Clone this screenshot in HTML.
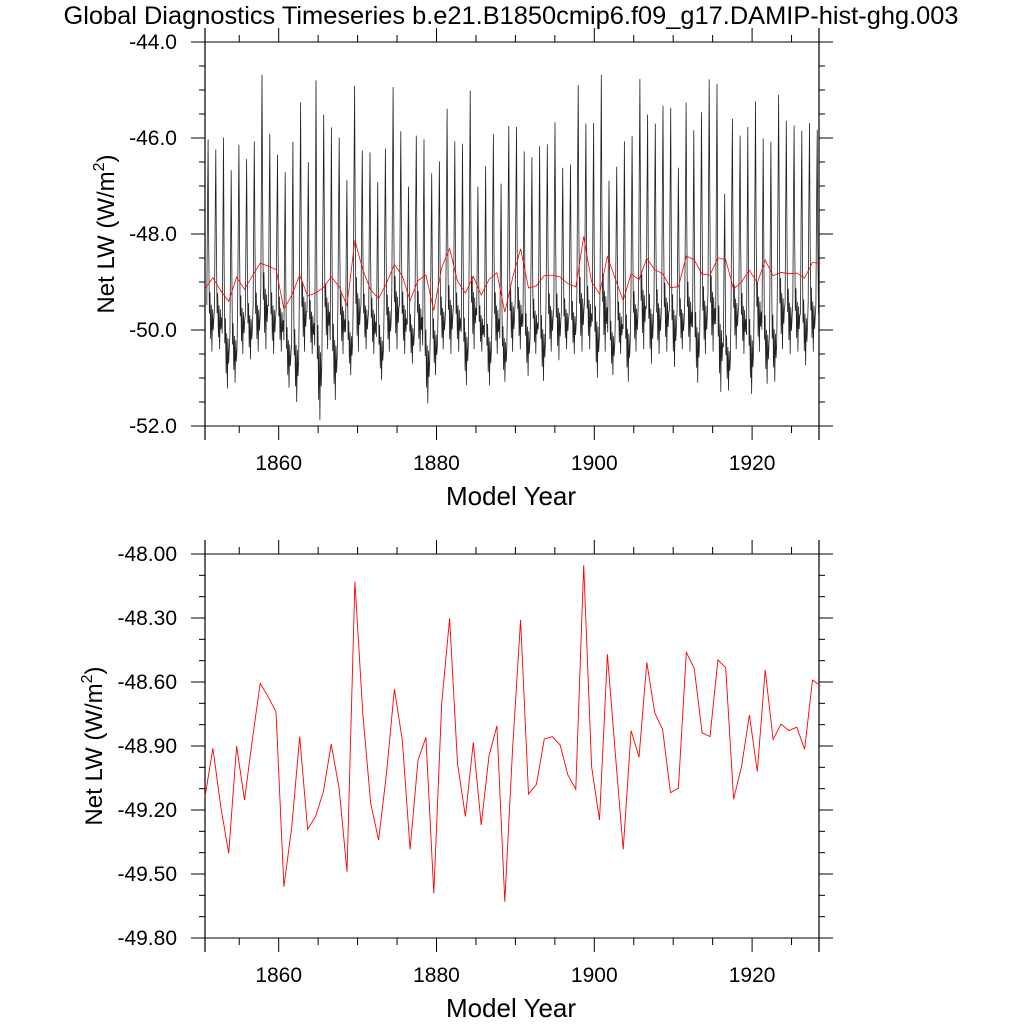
<!DOCTYPE html>
<html><head><meta charset="utf-8"><style>
body{margin:0;background:#fff}
svg{display:block;font-family:"Liberation Sans",Arial,sans-serif}
</style></head><body>
<svg id="chart" width="1024" height="1024" viewBox="0 0 1024 1024" xmlns="http://www.w3.org/2000/svg">
<rect width="1024" height="1024" fill="#fff"/>
<text x="511" y="24" font-size="25.4" text-anchor="middle" textLength="895" lengthAdjust="spacingAndGlyphs">Global Diagnostics Timeseries b.e21.B1850cmip6.f09_g17.DAMIP-hist-ghg.003</text>
<g id="top"></g>
<g id="bottom"></g>
</svg>
<script>
// ---- data ----
const annualMeans = [-49.138,-48.911,-49.185,-49.403,-48.900,-49.153,-48.872,-48.606,-48.669,-48.739,
-49.560,-49.278,-48.856,-49.291,-49.231,-49.114,-48.891,-49.098,-49.489,-48.130,
-48.747,-49.169,-49.341,-49.028,-48.634,-48.872,-49.385,-48.966,-48.859,-49.591,
-48.700,-48.302,-48.981,-49.231,-48.883,-49.270,-48.947,-48.806,-49.630,-48.903,
-48.309,-49.125,-49.080,-48.867,-48.856,-48.895,-49.036,-49.103,-48.052,-48.997,
-49.247,-48.470,-48.934,-49.385,-48.828,-48.953,-48.508,-48.744,-48.822,-49.119,
-49.098,-48.461,-48.536,-48.838,-48.856,-48.497,-48.533,-49.150,-48.997,-48.755,
-49.020,-48.544,-48.869,-48.798,-48.828,-48.812,-48.916,-48.591,-48.617];
const monthlyPeaks = [-46.03,-46.24,-45.99,-46.67,-46.14,-46.44,-46.07,-44.68,-45.91,-46.35,
-46.71,-46.08,-45.26,-46.50,-44.80,-45.51,-45.78,-45.99,-46.88,-44.91,
-46.26,-46.30,-46.92,-46.22,-44.94,-45.86,-47.01,-45.95,-46.03,-46.74,
-46.49,-45.39,-46.07,-46.12,-45.01,-47.01,-46.59,-45.92,-46.95,-45.75,
-45.77,-46.28,-46.40,-46.17,-46.13,-45.67,-46.62,-46.55,-44.90,-45.70,
-45.69,-44.68,-46.89,-46.60,-46.07,-45.96,-44.77,-45.51,-45.70,-45.33,
-45.37,-46.62,-45.26,-45.84,-45.46,-44.78,-44.87,-47.16,-45.60,-45.95,
-45.77,-45.24,-46.01,-46.08,-45.10,-45.64,-45.74,-45.85,-45.69,-45.83];
const monthlyLows = [-50.45,-50.40,-51.22,-51.10,-50.50,-50.61,-50.45,-50.40,-50.50,-50.45,
-51.20,-51.50,-50.45,-50.50,-51.88,-50.40,-51.46,-50.50,-50.94,-50.45,
-50.40,-50.50,-51.05,-50.45,-50.40,-50.50,-50.70,-50.45,-51.53,-50.94,
-50.40,-50.50,-50.45,-51.15,-50.40,-50.45,-51.15,-50.50,-51.08,-50.45,
-50.40,-50.96,-50.50,-51.06,-50.45,-50.63,-50.40,-50.50,-50.45,-50.40,
-50.99,-50.45,-50.94,-50.50,-51.08,-50.45,-50.40,-50.70,-50.50,-50.45,
-50.77,-50.40,-50.45,-51.10,-50.50,-50.45,-51.29,-51.26,-50.40,-50.50,
-51.33,-50.45,-51.12,-51.08,-50.40,-50.50,-50.45,-50.73,-50.45,-50.50];
const seasonalShape = [0.22,0.62,1.0,0.5,0.18,0.28,0.06,0.22,0.0,0.2,0.1,0.16];
const xTicks = [1860,1880,1900,1920];
const topYTicks = [-44,-46,-48,-50,-52];
const botYTicks = [-48.0,-48.3,-48.6,-48.9,-49.2,-49.5,-49.8];

const NS="http://www.w3.org/2000/svg";
const X0=205,X1=819,XMIN=1850.66,XMAX=1928.48;
function xs(t){return X0+(t-XMIN)/(XMAX-XMIN)*(X1-X0);}
function mk(parent,tag,attrs){const e=document.createElementNS(NS,tag);for(const k in attrs)e.setAttribute(k,attrs[k]);parent.appendChild(e);return e;}

function panel(g,Y0,Y1,ymin,ymax,yt,minorStep,dec,titleX,xtitleY){
  const ys=v=>Y0+(ymax-v)/(ymax-ymin)*(Y1-Y0);
  const axes=mk(g,'g',{});
  
  
  mk(axes,'line',{x1:191,y1:Y0,x2:832,y2:Y0,stroke:'#000','stroke-width':1});
  mk(axes,'line',{x1:191,y1:Y1,x2:832,y2:Y1,stroke:'#000','stroke-width':1});
  mk(axes,'line',{x1:X0,y1:Y0-14,x2:X0,y2:Y1+14,stroke:'#000','stroke-width':1.2});
  mk(axes,'line',{x1:X1,y1:Y0-14,x2:X1,y2:Y1+14,stroke:'#000','stroke-width':1.2});
  for(let yr=1855;yr<=1925;yr+=5){
    const x=xs(yr),maj=yr%20===0;
    const L=maj?14:7;
    mk(axes,'line',{x1:x,y1:Y0,x2:x,y2:Y0-L,stroke:'#000','stroke-width':1});
    mk(axes,'line',{x1:x,y1:Y1,x2:x,y2:Y1+L,stroke:'#000','stroke-width':1});
  }
  xTicks.forEach(v=>{
    const t=mk(g,'text',{x:xs(v),y:Y1+44,'font-size':21,'text-anchor':'middle'});
    
    
    t.textContent=v;
  });
  const n=Math.round((ymax-ymin)/minorStep);
  for(let i=0;i<=n;i++){
    const v=ymax-i*minorStep,y=ys(v);
    const maj=yt.some(a=>Math.abs(a-v)<1e-6);const L=maj?14:6;
    mk(axes,'line',{x1:X0,y1:y,x2:X0-L,y2:y,stroke:'#000','stroke-width':1});
    mk(axes,'line',{x1:X1,y1:y,x2:X1+L,y2:y,stroke:'#000','stroke-width':1});
  }
  yt.forEach(v=>{
    const t=mk(g,'text',{x:177,y:ys(v)+7,'font-size':21,'text-anchor':'end'});
    
    
    t.textContent=v.toFixed(dec);
  });
  const yc=(Y0+Y1)/2;
  const yt2=mk(g,'text',{x:titleX,y:yc,'font-size':24,'text-anchor':'middle',transform:`rotate(-90 ${titleX} ${yc})`});
  
  
  yt2.innerHTML='Net LW (W/m<tspan dy="-10" font-size="16">2</tspan><tspan dy="10">)</tspan>';
  const xt=mk(g,'text',{x:511,y:xtitleY,'font-size':26,'text-anchor':'middle'});
  
  
  xt.textContent='Model Year';
  return ys;
}

// top panel
const gt=document.getElementById('top');


const ysT=panel(gt,42,426,-52,-44,topYTicks,0.5,1,114,505);
let pts=[];
const pStep=(1928.25-1851.05)/(monthlyPeaks.length-1);
monthlyPeaks.forEach((P,i)=>{
  const L=monthlyLows[i];
  seasonalShape.forEach((f,k)=>{
    const t=1851.05+i*pStep+(k-2)*pStep/12;
    if(t<XMIN||t>XMAX) return;
    pts.push(xs(t).toFixed(1)+','+ysT(L+f*(P-L)).toFixed(1));
  });
});
const bl=mk(gt,'polyline',{points:pts.join(' '),fill:'none',stroke:'#222','stroke-width':0.8});


const rt=mk(gt,'polyline',{points:annualMeans.map((v,i)=>xs(XMIN+i).toFixed(1)+','+ysT(v).toFixed(1)).join(' '),fill:'none',stroke:'#f00','stroke-width':0.8});



// bottom panel
const gb=document.getElementById('bottom');


const ysB=panel(gb,554,938,-49.8,-48.0,botYTicks,0.1,2,102,1017);
const rb=mk(gb,'polyline',{points:annualMeans.map((v,i)=>xs(XMIN+i).toFixed(1)+','+ysB(v).toFixed(1)).join(' '),fill:'none',stroke:'#f00','stroke-width':0.9});


</script>
</body></html>
